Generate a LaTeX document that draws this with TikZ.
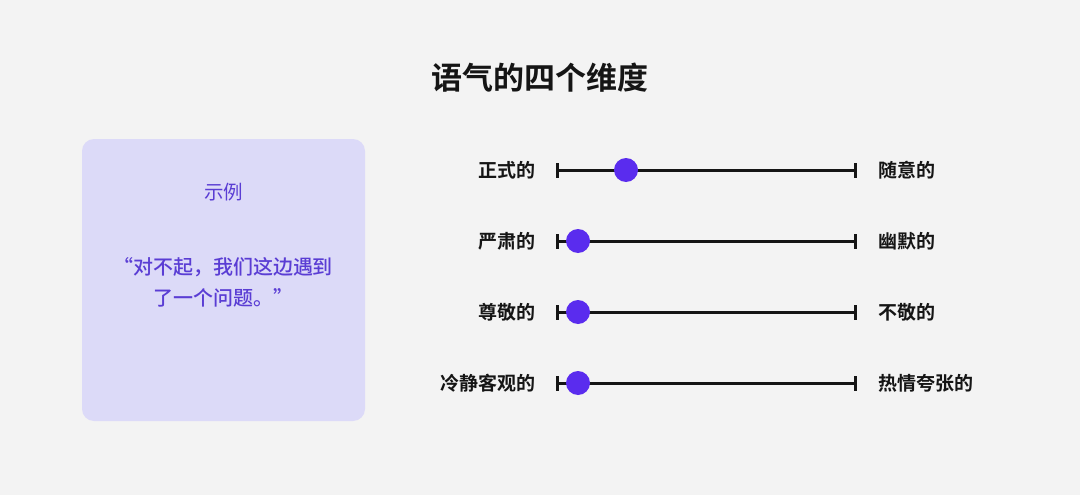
\documentclass[tikz,border=0pt]{standalone}
\usepackage{fontspec}
\newfontfamily\cjk{Noto Sans CJK SC}
\newfontfamily\cjkm{Noto Sans CJK SC Medium}
\newfontfamily\cjkb{Noto Sans CJK SC Bold}
\definecolor{bg}{HTML}{F3F3F3}
\definecolor{boxfill}{HTML}{DCDAF8}
\definecolor{boxtext}{HTML}{5A3DD4}
\definecolor{dot}{HTML}{5A2CEE}
\definecolor{ink}{HTML}{151515}
\tikzset{
  lbl/.style={font=\cjkb\fontsize{19}{22}\selectfont, text=ink, inner sep=0pt},
  scaleline/.style={draw=ink, line width=3.0pt},
  knob/.style={circle, fill=dot, minimum size=24pt, inner sep=0pt},
}
\begin{document}
\begin{tikzpicture}[x=1pt,y=-1pt]
\fill[bg] (0,0) rectangle (1080,495);
\useasboundingbox (0,0) rectangle (1080,495);
\node[font=\cjkb\fontsize{31}{34}\selectfont, text=ink, inner sep=0pt] (title) at (540,78) {语气的四个维度};
\fill[boxfill, rounded corners=12pt] (82,139) rectangle (365,421);
\node[font=\cjk\fontsize{19.5}{22}\selectfont, text=boxtext, inner sep=0pt] (ex) at (223.5,192) {示例};
\node[font=\cjkm\fontsize{20}{31}\selectfont, text=boxtext, inner sep=0pt, align=center] (quote) at (223,282) {“对不起，我们这边遇到\\了一个问题。”};
\foreach \i/\y/\k/\l/\r in {1/170/626/正式的/随意的, 2/241/578/严肃的/幽默的, 3/312/578/尊敬的/不敬的, 4/383/578/冷静客观的/热情夸张的}{
  \coordinate (a\i) at (557,\y);
  \coordinate (b\i) at (855,\y);
  \draw[scaleline] (a\i) -- (b\i);
  \draw[scaleline] ([yshift=-7.5pt]a\i) -- ([yshift=7.5pt]a\i);
  \draw[scaleline] ([yshift=-7.5pt]b\i) -- ([yshift=7.5pt]b\i);
  \node[knob] (k\i) at (\k,\y) {};
  \node[lbl, anchor=east] (l\i) at (536,\y) {\l};
  \node[lbl, anchor=west] (r\i) at (878,\y) {\r};
}
\end{tikzpicture}
\end{document}
